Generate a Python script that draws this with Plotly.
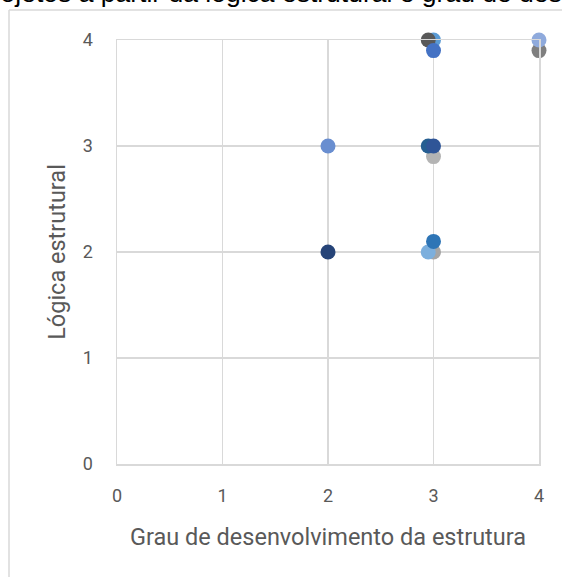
import plotly.graph_objects as go

# Data
grau = [3, 2.95, 3, 4, 4, 2, 3, 2.95, 3, 2, 3, 2.95, 3]
logica = [4, 4, 3.9, 3.9, 4, 3, 2.9, 3, 3, 2, 2, 2, 2.1]
cores = ["#5b9bd5", "#595959", "#4472c4", "#7f7f7f", "#8faadc", "#698ed0",
         "#b4b4b4", "#255e91", "#2f5597", "#264478", "#a5a5a5", "#7cafdd", "#2e75b6"]
ticks = [0, 1, 2, 3, 4]

titulo = "projetos a partir da lógica estrutural e grau de desenvolvimento"
x_titulo = "Grau de desenvolvimento da estrutura"
y_titulo = "Lógica estrutural"

W, H = 562, 577
L, R, T, B = 117, 23, 40, 113
pw, ph = W - L - R, H - T - B

fig = go.Figure()
fig.add_trace(go.Scatter(
    x=grau, y=logica, mode="markers",
    marker=dict(size=15, color=cores, line=dict(width=0)),
    cliponaxis=False, showlegend=False, hoverinfo="x+y",
))

grid = "#d9d9d9"
tickfont = dict(family="Roboto, Open Sans, sans-serif", size=18, color="#595959")
titlefont = dict(family="Roboto, DejaVu Sans, sans-serif", size=23.5, color="#595959")

fig.update_xaxes(range=[0, 4], tickvals=ticks, showgrid=True, gridcolor=grid, gridwidth=1.5,
                 zeroline=False, showline=True, linecolor=grid, linewidth=1.5, mirror=True,
                 ticks="outside", ticklen=15, tickcolor="rgba(0,0,0,0)", tickfont=tickfont,
                 title=dict(text=x_titulo, font=titlefont, standoff=23), fixedrange=True)
fig.update_yaxes(range=[0, 4], tickvals=ticks, showgrid=True, gridcolor=grid, gridwidth=1.5,
                 zeroline=False, showline=True, linecolor=grid, linewidth=1.5, mirror=True,
                 ticks="outside", ticklen=19, tickcolor="rgba(0,0,0,0)", tickfont=tickfont,
                 title=dict(text=y_titulo, font=titlefont, standoff=10), fixedrange=True)

def px_x(p):
    return (p - L) / pw

def px_y(p):
    return 1 - (p - T) / ph

# chart frame (partially visible)
fig.add_shape(type="line", xref="paper", yref="paper", x0=px_x(9), x1=px_x(W + 5),
              y0=px_y(10), y1=px_y(10), line=dict(color=grid, width=1.5))
fig.add_shape(type="line", xref="paper", yref="paper", x0=px_x(9), x1=px_x(9),
              y0=px_y(10), y1=px_y(H + 5), line=dict(color=grid, width=1.5))

fig.add_annotation(text=titulo, xref="paper", yref="paper", x=px_x(-25), y=px_y(10.5),
                   xanchor="left", yanchor="bottom", showarrow=False,
                   font=dict(family="Liberation Sans, Arial, sans-serif", size=26.5, color="#000000"))

fig.update_layout(width=W, height=H, margin=dict(l=L, r=R, t=T, b=B, autoexpand=False),
                  paper_bgcolor="white", plot_bgcolor="white")

fig.write_html("out.html", config={"displayModeBar": False, "staticPlot": True},
               post_script="document.body.style.margin='0';document.body.style.overflow='hidden';")
